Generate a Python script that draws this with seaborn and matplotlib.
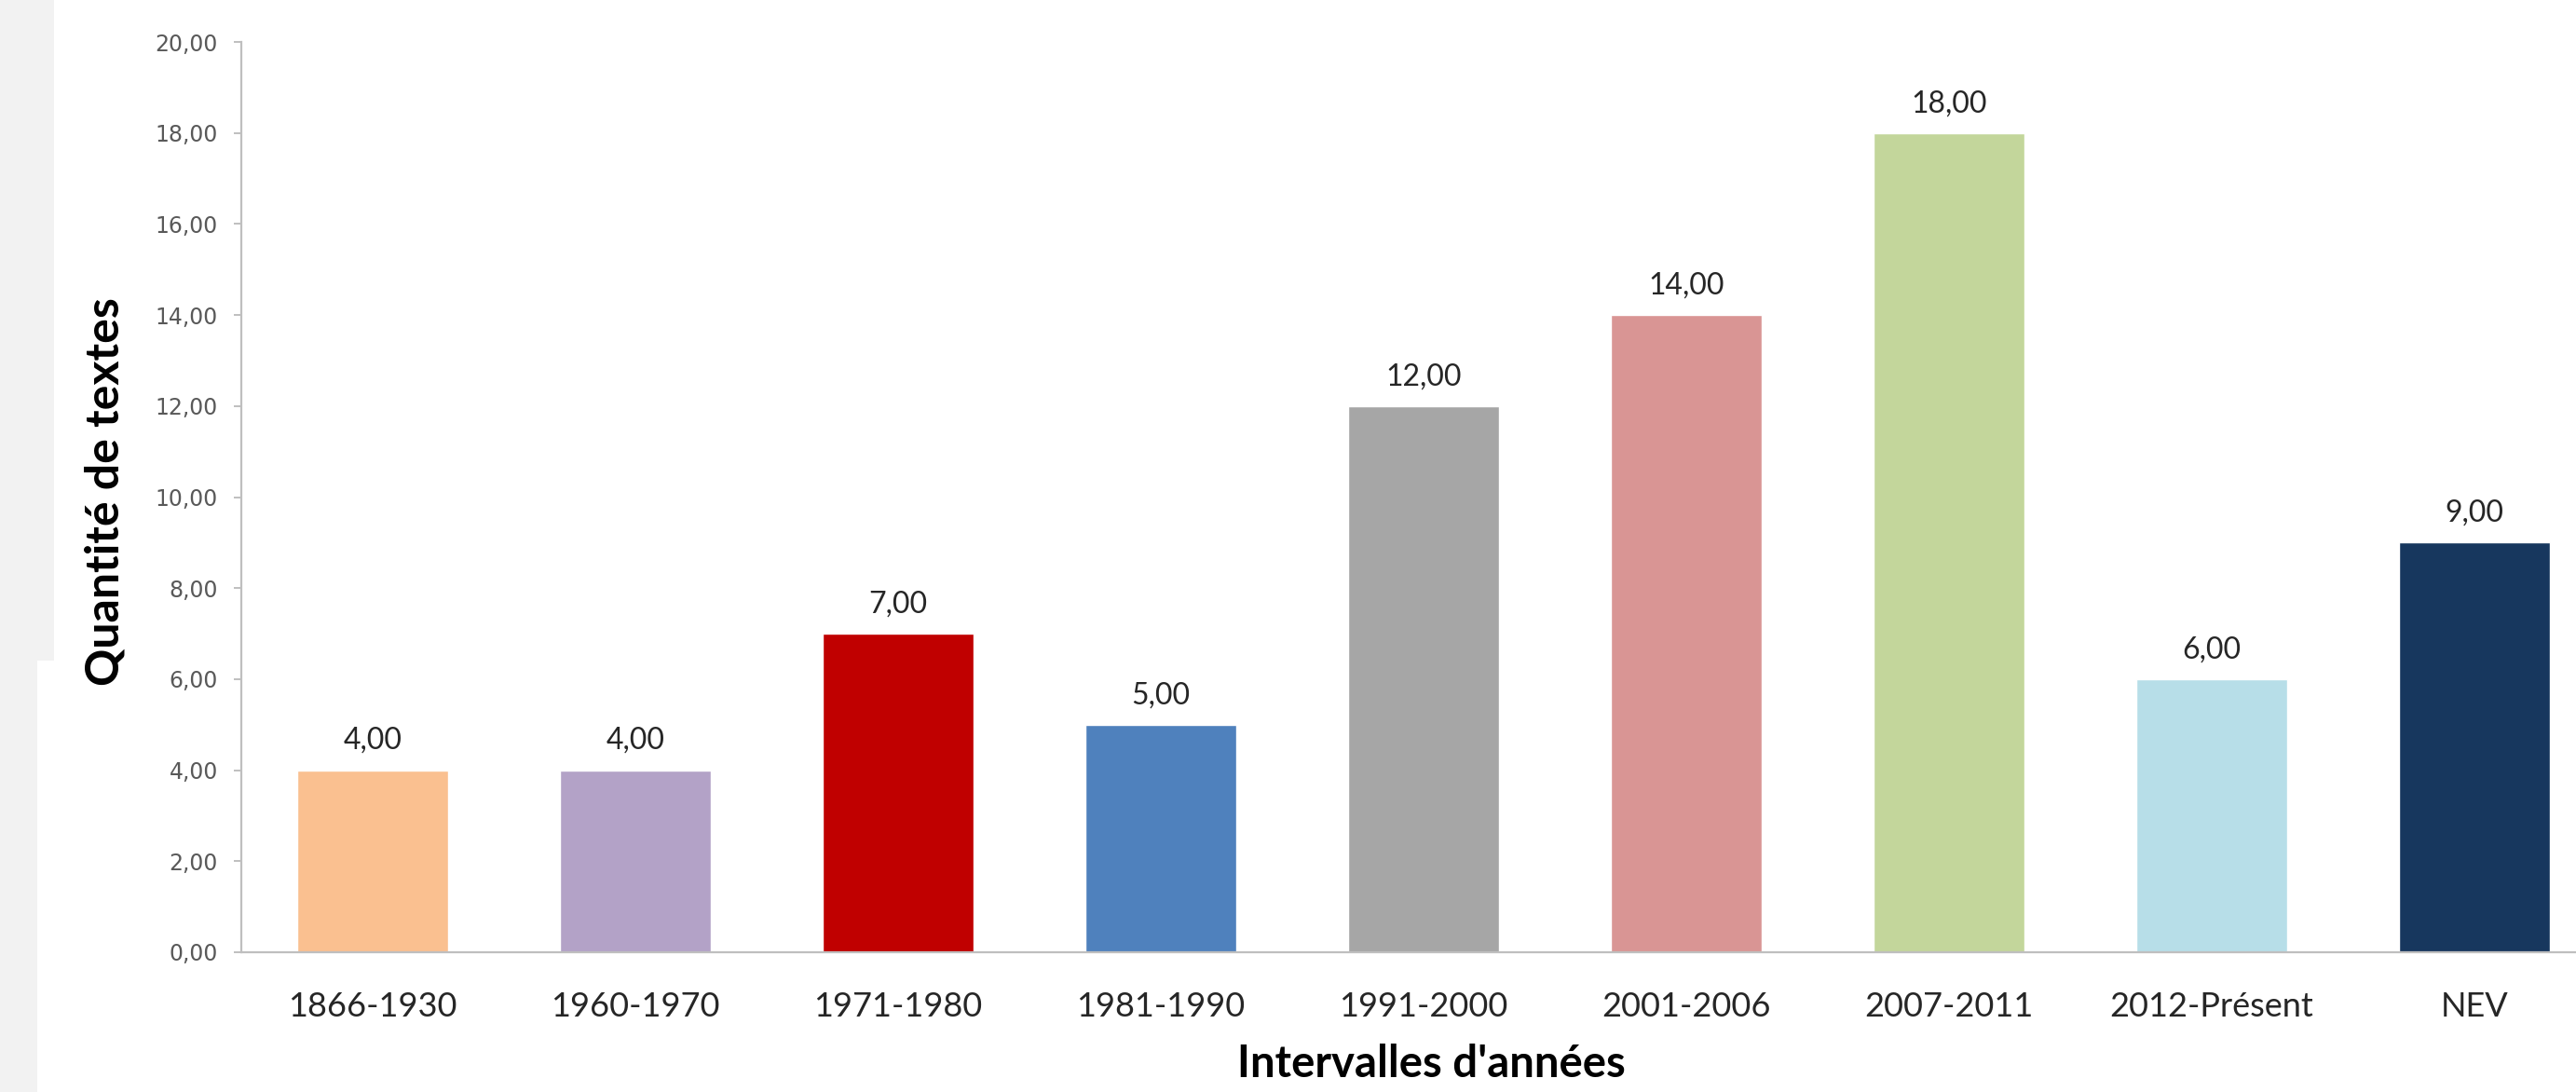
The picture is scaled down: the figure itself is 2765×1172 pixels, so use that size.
import numpy as np
import pandas as pd
import seaborn as sns
from matplotlib import pyplot as plt
from matplotlib.patches import Rectangle
from matplotlib.ticker import FuncFormatter, MultipleLocator

# Données
intervalles = ['1866-1930', '1960-1970', '1971-1980', '1981-1990', '1991-2000',
               '2001-2006', '2007-2011', '2012-Présent', 'NEV']
quantites = [4, 4, 7, 5, 12, 14, 18, 6, 9]
couleurs = ['#FAC090', '#B3A2C7', '#C00000', '#4F81BD', '#A6A6A6',
            '#D99594', '#C3D69B', '#B7DEE8', '#17375E']

df = pd.DataFrame({'intervalle': intervalles, 'quantite': quantites})


def fmt_virgule(v, pos=None):
    """Format français avec virgule décimale."""
    return f'{v:.2f}'.replace('.', ',')


sns.set_theme(style='white')
plt.rcParams['font.family'] = ['Lato', 'DejaVu Sans']

W, H = 2765, 1172
fig = plt.figure(figsize=(W / 100, H / 100), dpi=100)
fig.patch.set_facecolor('white')

# bande grise à gauche (capture d'écran)
fig.patches.append(Rectangle((0, 0), 40 / W, 1, transform=fig.transFigure,
                             facecolor='#F2F2F2', edgecolor='none', zorder=0))
fig.patches.append(Rectangle((0, 1 - 709 / H), 58 / W, 709 / H, transform=fig.transFigure,
                             facecolor='#F2F2F2', edgecolor='none', zorder=0))

# axes : le côté droit dépasse un peu de l'image
left, right = 259 / W, 2797 / W
bottom, top = 1 - 1022 / H, 1 - 45 / H
ax = fig.add_axes([left, bottom, right - left, top - bottom])

sns.barplot(data=df, x='intervalle', y='quantite', hue='intervalle',
            palette=couleurs, legend=False, width=0.575, saturation=1,
            ax=ax)

ax.set_ylim(0, 20)
ax.set_xlim(-0.5, len(intervalles) - 0.5)
ax.yaxis.set_major_locator(MultipleLocator(2))
ax.yaxis.set_major_formatter(FuncFormatter(fmt_virgule))

for cont in ax.containers:
    ax.bar_label(cont, labels=[fmt_virgule(b.get_height()) for b in cont],
                 padding=12, fontsize=23, color='#262626')

for s in ['top', 'right']:
    ax.spines[s].set_visible(False)
for s in ['left', 'bottom']:
    ax.spines[s].set_color('#BFBFBF')
    ax.spines[s].set_linewidth(1.6)

ax.tick_params(axis='y', which='major', direction='out', left=True, length=6,
               width=1.4, color='#BFBFBF', pad=12, labelsize=17,
               labelcolor='#595959')
ax.tick_params(axis='x', bottom=False, pad=24, labelsize=26, labelcolor='#262626')
for lab in ax.get_yticklabels():
    lab.set_family(['DejaVu Sans'])

ax.set_xlabel("Intervalles d'années", fontsize=34, fontweight='bold', color='#000000')
ax.set_ylabel('Quantité de textes', fontsize=36, fontweight='bold', color='#000000')
ax.xaxis.set_label_coords((1536 - 259) / (2797 - 259), (1022 - 1142) / 977)
ax.xaxis.label.set_va('center')
ax.yaxis.set_label_coords((113 - 259) / (2797 - 259), (1022 - 528) / 977)
ax.yaxis.label.set_va('center')

fig.savefig('out.png', dpi=100)
